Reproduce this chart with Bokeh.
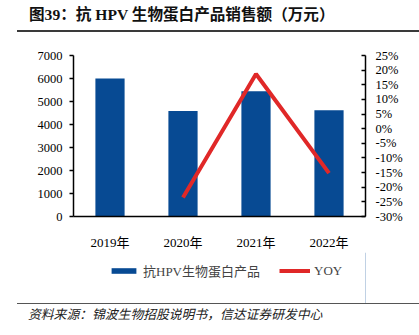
from bokeh.plotting import figure
from bokeh.models import (FactorRange, Range1d, LinearAxis, FixedTicker, Div,
                          Legend, LegendItem)
from bokeh.layouts import column
from bokeh.embed import file_html
from bokeh.resources import INLINE

years = ["2019年", "2020年", "2021年", "2022年"]
sales = [6000, 4590, 5450, 4620]
yoy_years = ["2020年", "2021年", "2022年"]
yoy = [-23.5, 18.7, -15.2]
left_ticks = [0, 1000, 2000, 3000, 4000, 5000, 6000, 7000]
right_ticks = [25, 20, 15, 10, 5, 0, -5, -10, -15, -20, -25, -30]

title_text = "图39：抗 HPV 生物蛋白产品销售额（万元）"
source_text = "资料来源：锦波生物招股说明书，信达证券研发中心"
bar_name = "抗HPV生物蛋白产品"
line_name = "YOY"

W = 419
TITLE_H = 34
FIG_H = 218
LEG_H = 51
SRC_H = 335 - TITLE_H - FIG_H - LEG_H
FL, FR = 73, 365
FT, FB = 55 - TITLE_H, 218 - TITLE_H   # frame top/bottom inside main figure

SERIF = "Liberation Serif, Noto Sans CJK SC"
BLUE = "#074A93"
RED = "#E02828"

p = figure(width=W, height=FIG_H, x_range=FactorRange(factors=years, range_padding=0),
           y_range=Range1d(0, 7000), output_backend="svg", toolbar_location=None,
           min_border_left=FL, min_border_right=W - FR, min_border_top=FT,
           min_border_bottom=FIG_H - FB, outline_line_color=None, margin=0)
p.extra_y_ranges = {"yoy": Range1d(-30, 25)}
p.xgrid.visible = False
p.ygrid.visible = False

bars = p.vbar(x=years, top=sales, width=0.4, fill_color=BLUE, line_color=None)
line = p.line(x=yoy_years, y=yoy, y_range_name="yoy", line_color=RED, line_width=4)

# left axis
ax = p.yaxis[0]
ax.ticker = FixedTicker(ticks=left_ticks)
ax.major_tick_out = 4
ax.major_tick_in = 0
ax.minor_tick_line_color = None
ax.axis_line_width = 1.5
ax.major_tick_line_width = 1.5
ax.major_label_text_font = SERIF
ax.major_label_text_font_size = "12.5px"
ax.major_label_text_color = "black"
ax.major_label_standoff = 7

# right axis
rax = LinearAxis(y_range_name="yoy", ticker=FixedTicker(ticks=right_ticks))
rax.major_label_overrides = {t: f"{t}%" for t in right_ticks}
rax.major_tick_out = 0
rax.major_tick_in = 4
rax.minor_tick_line_color = None
rax.axis_line_width = 1.5
rax.major_tick_line_width = 1.5
rax.major_label_text_font = SERIF
rax.major_label_text_font_size = "12.5px"
rax.major_label_text_color = "black"
rax.major_label_standoff = 10
p.add_layout(rax, "right")

# x axis
xax = p.xaxis[0]
xax.major_tick_line_color = None
xax.axis_line_width = 1.5
xax.major_label_text_font = SERIF
xax.major_label_text_font_size = "13px"
xax.major_label_text_color = "black"
xax.major_label_standoff = 12

# legend strip: a second figure holding only the legend; its key glyphs carry one
# value each but lie outside the strip's ranges, so only the legend shows
pl = figure(width=W, height=LEG_H, x_range=Range1d(0, 1), y_range=Range1d(0, 1),
            output_backend="svg", toolbar_location=None, x_axis_location=None,
            y_axis_location=None, min_border_left=FL, min_border_right=W - FR,
            min_border_top=0, min_border_bottom=0, outline_line_color=None, margin=0)
pl.xgrid.visible = False
pl.ygrid.visible = False
lb = pl.vbar(x=[sales[0]], top=[sales[0]], width=0.4, fill_color=BLUE, line_color=None)
ll = pl.line(x=[sales[0], sales[1]], y=[sales[0], sales[1]], line_color=RED, line_width=4)
legend = Legend(items=[LegendItem(label=bar_name, renderers=[lb]),
                       LegendItem(label=line_name, renderers=[ll])],
                orientation="horizontal", location=(108 - FL, LEG_H - 28),
                glyph_width=31, glyph_height=7, label_height=16,
                label_standoff=4, spacing=19, padding=0, margin=0,
                border_line_color=None, background_fill_alpha=0,
                label_text_font=SERIF, label_text_font_size="13px")
pl.add_layout(legend, "center")

title_div = Div(width=W, height=TITLE_H, margin=0, text=(
    '<div style="position:absolute;left:17px;top:0;width:402px;height:32px;'
    'border-bottom:2px solid #3a3a3a;">'
    '<span style="position:absolute;left:12px;top:5px;white-space:nowrap;'
    'font-family:\'Liberation Serif\',\'Noto Sans CJK SC\';font-weight:bold;'
    'font-size:15.6px;line-height:20px;color:#111;">' + title_text + '</span></div>'))

source_div = Div(width=W, height=SRC_H, margin=0, text=(
    '<div style="position:absolute;left:17px;top:0;width:402px;height:30px;'
    'border-top:1.5px solid #555;">'
    '<span style="position:absolute;left:11px;top:2px;white-space:nowrap;'
    'font-family:\'Liberation Serif\',\'Noto Sans CJK SC\';font-style:italic;'
    'font-size:12.8px;line-height:18px;color:#222;">' + source_text + '</span></div>'))

layout = column(title_div, p, pl, source_div, spacing=0, margin=0)

open("out.html", "w").write(file_html(layout, INLINE))
